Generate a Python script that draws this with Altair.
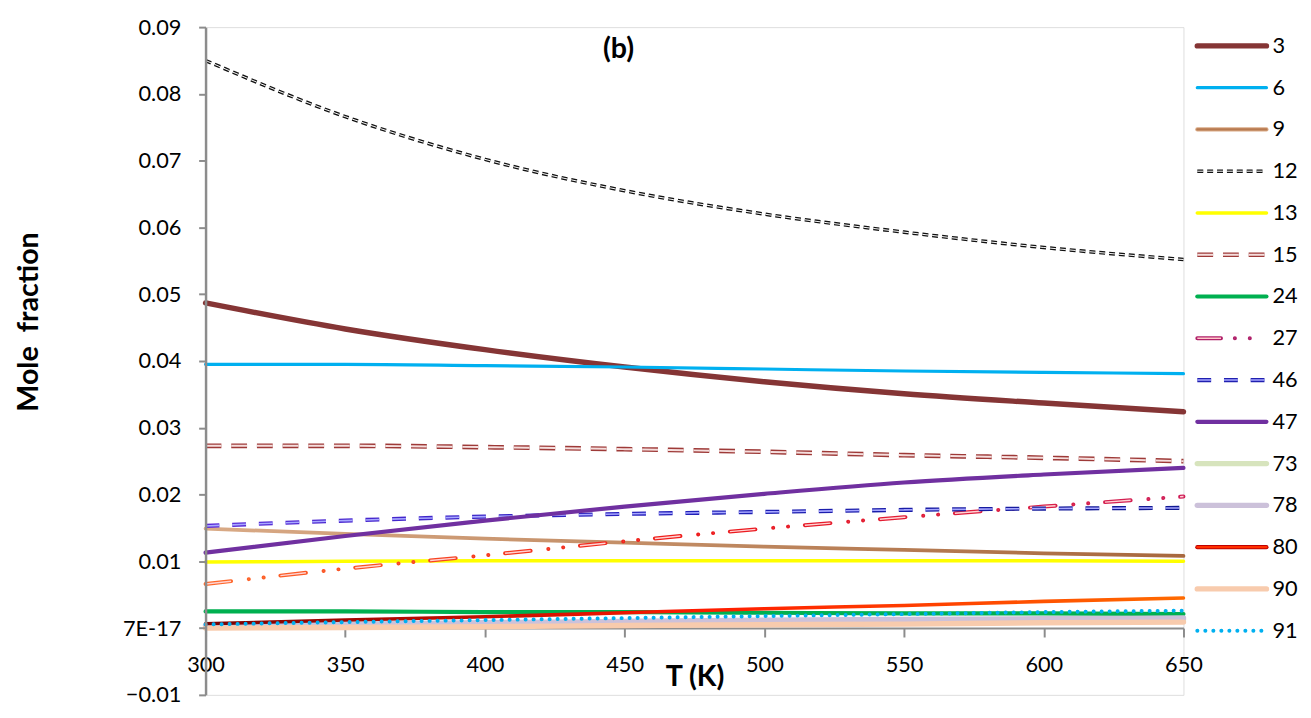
import altair as alt
import pandas as pd

T = [300, 350, 400, 450, 500, 550, 600, 650]

names = ["3", "6", "9", "12", "13", "15", "24", "27", "46", "47", "73", "78", "80", "90", "91"]

s3 = [0.0487, 0.0448, 0.0417, 0.0391, 0.0369, 0.0351, 0.0337, 0.0324]
s6 = [0.0395, 0.0395, 0.0393, 0.0391, 0.0388, 0.0385, 0.0383, 0.0381]
s9 = [0.0149, 0.0141, 0.0134, 0.0128, 0.0122, 0.0117, 0.0112, 0.0108]
s12 = [0.0850, 0.0766, 0.0702, 0.0655, 0.0620, 0.0593, 0.0570, 0.0552]
s13 = [0.0099, 0.0100, 0.0101, 0.0101, 0.0101, 0.0101, 0.0101, 0.0100]
s15 = [0.0273, 0.0273, 0.0271, 0.0268, 0.0264, 0.0259, 0.0255, 0.0250]
s24 = [0.0025, 0.0025, 0.0024, 0.0024, 0.0023, 0.0022, 0.0022, 0.0021]
s27 = [0.0066, 0.0089, 0.0109, 0.0130, 0.0149, 0.0166, 0.0182, 0.0197]
s46 = [0.0153, 0.0161, 0.0167, 0.0171, 0.0174, 0.0177, 0.0179, 0.0180]
s47 = [0.0113, 0.0138, 0.0161, 0.0182, 0.0201, 0.0218, 0.0230, 0.0240]
s73 = [0.0003, 0.0005, 0.0007, 0.0008, 0.0010, 0.0011, 0.0012, 0.0013]
s78 = [0.0004, 0.0006, 0.0008, 0.0010, 0.0012, 0.0013, 0.0014, 0.0015]
s80 = [0.00065, 0.0012, 0.0017, 0.0023, 0.0029, 0.0034, 0.0040, 0.0045]
s90 = [0.0000, 0.0001, 0.0002, 0.0004, 0.0005, 0.0006, 0.0008, 0.0009]
s91 = [0.00055, 0.0009, 0.0012, 0.0015, 0.0018, 0.0021, 0.0024, 0.0026]

series_values = [s3, s6, s9, s12, s13, s15, s24, s27, s46, s47, s73, s78, s80, s90, s91]

y_ticks = [-0.01, 0.0, 0.01, 0.02, 0.03, 0.04, 0.05, 0.06, 0.07, 0.08, 0.09]
x_ticks = [300, 350, 400, 450, 500, 550, 600, 650]

rows = []
for n, vals in zip(names, series_values):
    for t, v in zip(T, vals):
        rows.append({"series": n, "T": t, "value": v})
df = pd.DataFrame(rows)

leg_rows = []
for i, n in enumerate(names):
    for lx in (0, 1):
        leg_rows.append({"series": n, "idx": i, "lx": lx})
leg = pd.DataFrame(leg_rows)


def hgrad(*cols):
    k = len(cols) - 1
    return alt.Gradient(
        gradient="linear",
        stops=[alt.GradientStop(color=c, offset=i / k) for i, c in enumerate(cols)],
        x1=0, x2=1, y1=0, y2=0,
    )


grad80 = hgrad("#7a0000", "#ff1a00", "#ff6a00")
grad27 = hgrad("#ff6a2a", "#ee1a1a", "#d0205a")
grad9 = hgrad("#d9aa86", "#c08a62", "#a8683e")
grad46 = hgrad("#5a2ad8", "#2020b8", "#101890")

D27 = [26, 18, 0.1, 15, 0.1, 17]

STYLE = {
    "3": [dict(c="#853535", w=5.5, cap="round")],
    "6": [dict(c="#00b0f0", w=3.2, cap="round")],
    "9": [dict(c=grad9, w=3.8, cap="round")],
    "12": [dict(c="#111111", w=3.6, dash=[6, 4]), dict(c="#ffffff", w=1.0, dash=[6, 4])],
    "13": [dict(c="#ffff00", w=3.6, cap="round")],
    "15": [dict(c="#9e3a38", w=4.8, dash=[16, 10]), dict(c="#f5dedd", w=2.0, dash=[16, 10])],
    "24": [dict(c="#00b050", w=4.2, cap="round")],
    "27": [dict(c=grad27, w=4, dash=D27, cap="round"),
           dict(c="#ffd4d4", w=1.5, dash=D27)],
    "46": [dict(c=grad46, w=4.2, dash=[14, 13]), dict(c="#a8a8ff", w=1.6, dash=[14, 13])],
    "47": [dict(c="#7030a0", w=4.2, cap="round")],
    "73": [dict(c="#d7e4bd", w=5.5, cap="round")],
    "78": [dict(c="#ccc1da", w=5.5, cap="round")],
    "80": [dict(c=grad80, w=3.6, cap="round")],
    "90": [dict(c="#f8cbad", w=5.5, cap="round")],
    "91": [dict(c="#00b0f0", w=4, dash=[0.1, 8], cap="round")],
}
LEG_OVERRIDE = {
    "9": [dict(c="#d9aa86", w=4.2, cap="round"), dict(c="#b87a50", w=2.2, cap="round")],
    "27": [dict(c="#b0206a", w=4, dash=[24, 14, 0.1, 15, 0.1, 17], cap="round"),
           dict(c="#ffc8c8", w=1.5, dash=[24, 14, 0.1, 15, 0.1, 17])],
    "46": [dict(c="#2020b0", w=4.2, dash=[14, 13]), dict(c="#a8a8ff", w=1.6, dash=[14, 13])],
    "80": [dict(c="#c00000", w=4.2, cap="round"), dict(c="#ff3000", w=2.2, cap="round")],
}

FONT = "Lato"

X = alt.X(
    "T:Q",
    scale=alt.Scale(domain=[300, 650], nice=False, zero=False),
    axis=alt.Axis(
        values=x_ticks, format="d", offset=-67.6, labelFlush=False,
        title="T\u00a0(K)", titleFont=FONT, titleFontSize=29, titleFontWeight="bold",
        titleColor="black", titleY=49, titleBaseline="middle",
        labelFont=FONT, labelFontSize=22, labelColor="black", labelPadding=18,
        tickColor="#8c8c8c", tickSize=9, tickWidth=2,
        domainColor="#8c8c8c", domainWidth=2, grid=False,
    ),
)
Y = alt.Y(
    "value:Q",
    scale=alt.Scale(domain=[-0.01, 0.09], nice=False, zero=False),
    axis=alt.Axis(
        values=y_ticks,
        labelExpr="abs(datum.value) < 1e-9 ? '7E-17' : format(datum.value, '.2f')",
        title="Mole\u00a0\u00a0fraction", titleFont=FONT, titleFontSize=29, titleFontWeight="bold",
        titleColor="black", titleX=-179, titleY=298, titleAngle=270,
        titleBaseline="middle", titleAlign="center",
        labelFont=FONT, labelFontSize=22, labelColor="black", labelPadding=18,
        tickColor="#8c8c8c", tickSize=7, tickWidth=2,
        domainColor="#8c8c8c", domainWidth=2.5, grid=False, zindex=1,
    ),
)
LX = alt.X("lx:Q", scale=alt.Scale(domain=[0, 1], range=[1004, 1074]), axis=None)
LY = alt.Y("idx:Q", scale=alt.Scale(domain=[0, 14], range=[19, 611], zero=False, nice=False), axis=None)

main_layers = []
leg_layers = []
for n in names:
    for st in STYLE[n]:
        mk = dict(strokeWidth=st["w"], strokeCap=st.get("cap", "butt"))
        if "dash" in st:
            mk["strokeDash"] = st["dash"]
        main_layers.append(
            alt.Chart(df).transform_filter(alt.datum.series == n)
            .mark_line(color=st["c"], interpolate="monotone", **mk)
            .encode(x=X, y=Y)
        )
    for st in LEG_OVERRIDE.get(n, STYLE[n]):
        mk = dict(strokeWidth=st["w"], strokeCap=st.get("cap", "butt"))
        if "dash" in st:
            mk["strokeDash"] = st["dash"]
        leg_layers.append(
            alt.Chart(leg).transform_filter(alt.datum.series == n)
            .mark_line(color=st["c"], **mk)
            .encode(x=LX, y=LY)
        )

leg_text = (
    alt.Chart(leg).transform_filter(alt.datum.lx == 1)
    .mark_text(align="left", baseline="middle", dx=6, font=FONT, fontSize=22, color="black")
    .encode(x=LX, y=LY, text="series:N")
)

panel_label = (
    alt.Chart(pd.DataFrame({"lab": ["(b)"]}))
    .mark_text(font=FONT, fontSize=29, fontWeight="bold", color="black",
               align="center", baseline="middle")
    .encode(text="lab:N", x=alt.value(418), y=alt.value(22))
)

main = alt.layer(*main_layers)
legend = alt.layer(*leg_layers, leg_text, panel_label)

chart = (
    alt.layer(main, legend)
    .resolve_scale(x="independent", y="independent")
    .properties(width=990, height=676)
    .configure_view(stroke="black", strokeWidth=2)
    .configure(padding={"left": 7, "top": 4, "right": 5, "bottom": 5})
)

chart.save("out.html", embed_options={"renderer": "svg", "actions": False})
